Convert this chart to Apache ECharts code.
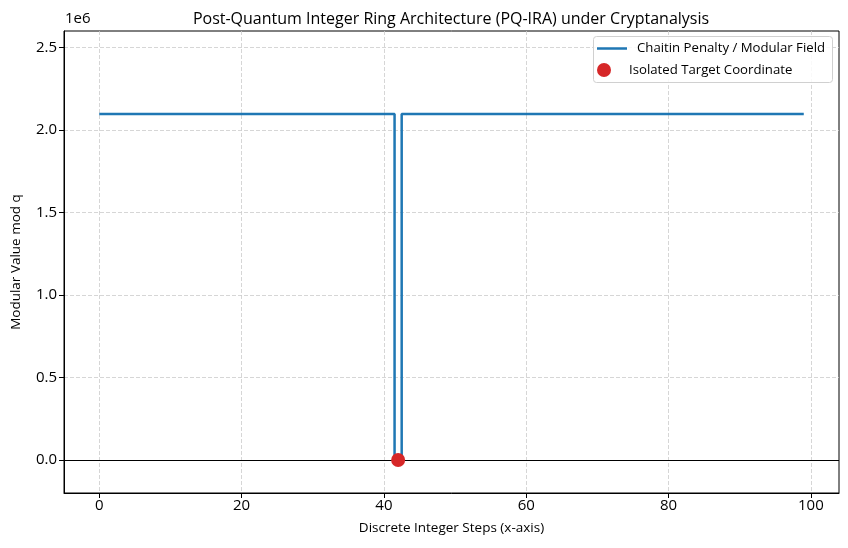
<!DOCTYPE html>
<html>
<head>
<meta charset="utf-8">
<script src="https://cdn.jsdelivr.net/npm/echarts@6/dist/echarts.min.js"></script>
<style>html,body{margin:0;padding:0;background:#fff}#c{width:848px;height:548px}</style>
</head>
<body>
<div id="c"></div>
<script>
const titleText = 'Post-Quantum Integer Ring Architecture (PQ-IRA) under Cryptanalysis';
const xLabel = 'Discrete Integer Steps (x-axis)';
const yLabel = 'Modular Value mod q';
const seriesNames = ['Chaitin Penalty / Modular Field', 'Isolated Target Coordinate'];
const xTicks = [0, 20, 40, 60, 80, 100];
const yTicks = [0, 500000, 1000000, 1500000, 2000000, 2500000];
const steps = [0,1,2,3,4,5,6,7,8,9,10,11,12,13,14,15,16,17,18,19,20,21,22,23,24,25,26,27,28,29,30,31,32,33,34,35,36,37,38,39,40,41,42,43,44,45,46,47,48,49,50,51,52,53,54,55,56,57,58,59,60,61,62,63,64,65,66,67,68,69,70,71,72,73,74,75,76,77,78,79,80,81,82,83,84,85,86,87,88,89,90,91,92,93,94,95,96,97,98,99];
const fieldValues = [
2097152,2097152,2097152,2097152,2097152,2097152,2097152,2097152,2097152,2097152,
2097152,2097152,2097152,2097152,2097152,2097152,2097152,2097152,2097152,2097152,
2097152,2097152,2097152,2097152,2097152,2097152,2097152,2097152,2097152,2097152,
2097152,2097152,2097152,2097152,2097152,2097152,2097152,2097152,2097152,2097152,
2097152,2097152,0,2097152,2097152,2097152,2097152,2097152,2097152,2097152,
2097152,2097152,2097152,2097152,2097152,2097152,2097152,2097152,2097152,2097152,
2097152,2097152,2097152,2097152,2097152,2097152,2097152,2097152,2097152,2097152,
2097152,2097152,2097152,2097152,2097152,2097152,2097152,2097152,2097152,2097152,
2097152,2097152,2097152,2097152,2097152,2097152,2097152,2097152,2097152,2097152,
2097152,2097152,2097152,2097152,2097152,2097152,2097152,2097152,2097152,2097152];
const targetX = [42];
const targetY = [0];

const FONT = 'Open Sans';
const chart = echarts.init(document.getElementById('c'), null, {renderer: 'canvas'});
const gridSplit = {show: true, lineStyle: {color: '#cccccc', type: [4, 2], width: 0.8}};
const legendText = {fontFamily: FONT, fontSize: 13.2, color: '#000', padding: [0, 0, 0, 5]};
chart.setOption({
  animation: false,
  backgroundColor: '#fff',
  textStyle: {fontFamily: FONT},
  title: {
    text: titleText, left: 446, top: 6, textAlign: 'center',
    textStyle: {fontFamily: FONT, fontSize: 16, fontWeight: 'normal', color: '#000'}
  },
  graphic: [
    {type: 'text', left: 65, top: 11, style: {text: '1e6', font: '15px "' + FONT + '"', fill: '#000'}},
    {type: 'rect', left: 593, top: 36, z: 10,
     shape: {width: 239, height: 46, r: 3},
     style: {fill: 'rgba(255,255,255,0.85)', stroke: '#d0d0d0', lineWidth: 1}}
  ],
  legend: [
    {
      orient: 'vertical', left: 597, top: 42, z: 20, padding: 0,
      itemWidth: 30, itemHeight: 2.5, icon: 'rect',
      textStyle: legendText,
      data: [{name: seriesNames[0], icon: 'rect'}]
    },
    {
      orient: 'vertical', left: 597, top: 63, z: 20, padding: 0,
      itemWidth: 30, itemHeight: 14, icon: 'circle',
      textStyle: legendText,
      data: [{name: seriesNames[1], icon: 'circle'}]
    }
  ],
  grid: {left: 64, right: 9, top: 31, bottom: 55, show: true, borderColor: '#000', borderWidth: 1, backgroundColor: 'transparent'},
  xAxis: {
    type: 'value', min: -4.95, max: 103.95,
    name: xLabel, nameLocation: 'middle', nameGap: 28,
    nameTextStyle: {fontFamily: FONT, fontSize: 13.5, color: '#000'},
    axisLine: {show: true, onZero: false, lineStyle: {color: '#000'}},
    axisTick: {show: true, length: 5, customValues: xTicks, lineStyle: {color: '#000'}},
    axisLabel: {customValues: xTicks, fontFamily: FONT, fontSize: 15, color: '#000', margin: 5},
    splitLine: gridSplit
  },
  yAxis: {
    type: 'value', min: -200000, max: 2600000,
    name: yLabel, nameLocation: 'middle', nameGap: 41,
    nameTextStyle: {fontFamily: FONT, fontSize: 13.5, color: '#000'},
    axisLine: {show: true, onZero: false, lineStyle: {color: '#000'}},
    axisTick: {show: true, length: 5, customValues: yTicks, lineStyle: {color: '#000'}},
    axisLabel: {customValues: yTicks, fontFamily: FONT, fontSize: 15, color: '#000', margin: 7,
      formatter: v => (v / 1e6).toFixed(1)},
    splitLine: gridSplit
  },
  series: [
    {
      name: seriesNames[0], type: 'line', step: 'middle', showSymbol: false, symbol: 'none',
      data: steps.map((x, i) => [x, fieldValues[i]]),
      lineStyle: {color: '#1f77b4', width: 2.5}, itemStyle: {color: '#1f77b4'},
      z: 3,
      markLine: {
        silent: true, symbol: 'none', label: {show: false},
        lineStyle: {color: '#000', type: 'solid', width: 1.2},
        data: [{yAxis: 0}], z: 2
      }
    },
    {
      name: seriesNames[1], type: 'scatter', symbol: 'circle', symbolSize: 14,
      data: targetX.map((x, i) => [x, targetY[i]]),
      itemStyle: {color: '#d62728', opacity: 1}, z: 5
    }
  ]
});
</script>
</body>
</html>
